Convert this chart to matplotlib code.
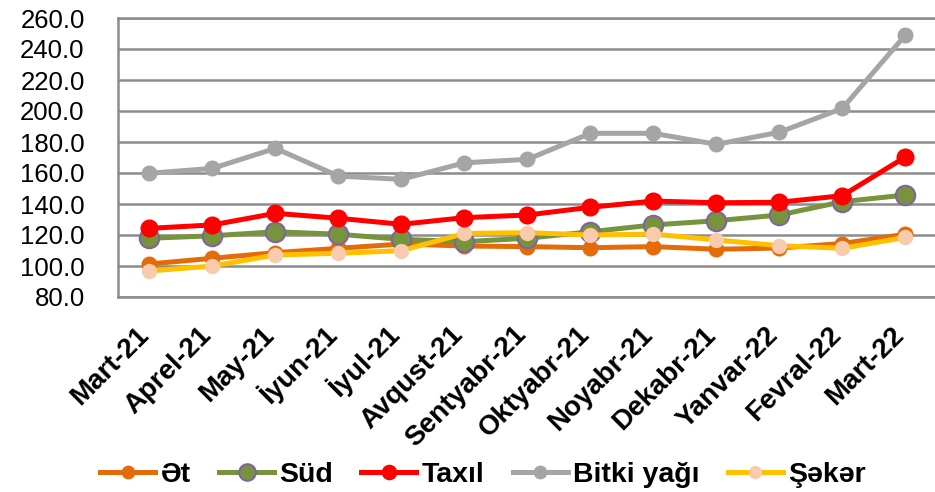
import matplotlib
matplotlib.use("Agg")
import matplotlib.pyplot as plt
import matplotlib.transforms as mtransforms

plt.rcParams['font.family'] = ['Liberation Sans', 'DejaVu Sans']

months = ["Mart-21", "Aprel-21", "May-21", "İyun-21", "İyul-21", "Avqust-21",
          "Sentyabr-21", "Oktyabr-21", "Noyabr-21", "Dekabr-21", "Yanvar-22",
          "Fevral-22", "Mart-22"]

et = [101.3, 105.0, 108.6, 111.4, 114.2, 112.9, 112.5, 111.8, 112.5, 110.8, 111.6, 114.5, 120.5]
sud = [117.9, 119.5, 122.1, 120.5, 117.2, 115.7, 117.9, 122.1, 126.5, 129.2, 132.9, 141.5, 145.8]
taxil = [124.3, 126.5, 134.0, 130.8, 126.9, 131.2, 132.9, 137.9, 141.9, 140.8, 141.1, 145.4, 170.3]
bitki = [159.8, 163.0, 175.9, 158.0, 155.9, 166.6, 168.8, 185.6, 185.6, 178.5, 186.3, 201.7, 249.0]
seker = [96.8, 100.0, 107.1, 108.2, 109.9, 121.0, 121.5, 120.0, 120.6, 116.8, 113.1, 111.4, 118.5]

series_names = ["Ət", "Süd", "Taxıl", "Bitki yağı", "Şəkər"]
yticks = [80, 100, 120, 140, 160, 180, 200, 220, 240, 260]

fig = plt.figure(figsize=(9.35, 4.92), dpi=100)
ax = fig.add_axes([118/935, 1-297/492, 1-118/935+0.002, (297-18)/492])

x = list(range(len(months)))
lw = 3.6
ax.plot(x, et, color="#E36C09", lw=lw, marker="o", ms=10.5,
        mfc="#E36C09", mec="#E36C09", label=series_names[0], zorder=3)
ax.plot(x, sud, color="#77933C", lw=lw, marker="o", ms=14,
        mfc="#77933C", mec="#8064A2", mew=1.5, label=series_names[1], zorder=4)
ax.plot(x, taxil, color="#FF0000", lw=lw, marker="o", ms=12,
        mfc="#FF0000", mec="#FF0000", label=series_names[2], zorder=5)
ax.plot(x, bitki, color="#A5A5A5", lw=lw, marker="o", ms=10.5,
        mfc="#A5A5A5", mec="#A5A5A5", label=series_names[3], zorder=3)
ax.plot(x, seker, color="#FFC000", lw=lw, marker="o", ms=10,
        mfc="#F8CBAD", mec="#F8CBAD", label=series_names[4], zorder=4)

ax.set_xlim(-0.5, len(months) - 0.5)
ax.set_ylim(80, 260)
ax.set_yticks(yticks)
ax.set_yticklabels([f"{v:.1f}" for v in yticks], fontsize=18.5)
ax.set_xticks(x)
ax.set_xticklabels(months, fontsize=20, fontweight="bold", rotation=45,
                   ha="right", va="baseline", rotation_mode="anchor")
offset = mtransforms.ScaledTranslation(7/100, 0, fig.dpi_scale_trans)
for lab in ax.get_xticklabels():
    lab.set_transform(lab.get_transform() + offset)

ax.tick_params(axis="y", length=0, pad=24)
ax.tick_params(axis="x", length=0, pad=28)
ax.grid(axis="y", color="#8C8C8C", lw=1.8, zorder=0)
ax.set_axisbelow(True)
for s in ["left", "bottom", "top", "right"]:
    ax.spines[s].set_color("#8C8C8C")
    ax.spines[s].set_linewidth(1.8)

leg = fig.legend(loc="center", bbox_to_anchor=(483/935, 1-475/492), ncol=5, frameon=False,
                 prop={"size": 20.5, "weight": "bold"}, handlelength=1.93,
                 handletextpad=0.18, columnspacing=1.0, markerscale=0.85)

fig.savefig("out.png", dpi=100)
